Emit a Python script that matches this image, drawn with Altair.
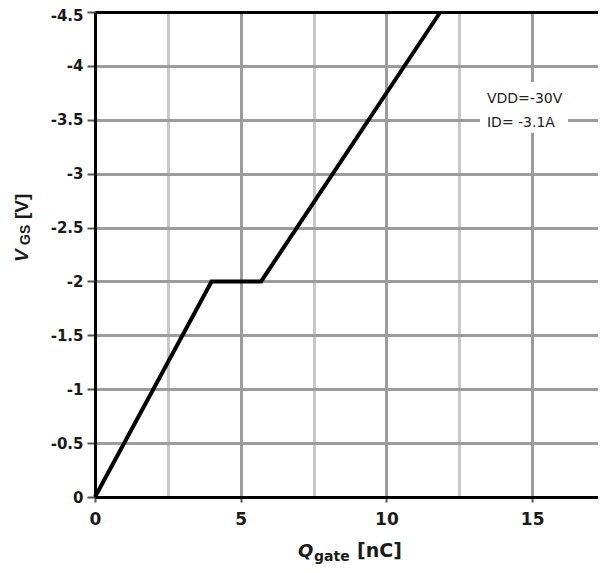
import altair as alt
import pandas as pd

# ---- data ----
q_gate = [0.0, 4.0, 5.7, 11.85]          # nC
v_gs = [0.0, -2.0, -2.0, -4.5]           # V
x_grid = [0, 2.5, 5, 7.5, 10, 12.5, 15]
y_grid = [0, -0.5, -1, -1.5, -2, -2.5, -3, -3.5, -4, -4.5]
note_texts = ["VDD=-30V", "ID= -3.1A"]
note_q = [13.45, 13.45]
note_v = [-3.66, -3.43]
x_title_parts = ["Q", "gate", "[nC]"]
y_title_parts = ["V", "GS", "[V]"]

W, H = 503, 485
X_MAX = 17.26
FONT = "DejaVu Sans"
TFONT = "Liberation Sans"
DARK_GRID = "#9c9c9c"
LIGHT_GRID = "#c8c8c8"

df = pd.DataFrame({"q": q_gate, "v": v_gs})

x_scale = alt.Scale(domain=[0, X_MAX], nice=False, zero=False)
y_scale = alt.Scale(domain=[0, -4.5], nice=False, zero=False)

x_axis = alt.Axis(
    values=x_grid,
    labelExpr="datum.value % 5 === 0 ? datum.value + '' : ''",
    grid=True,
    gridColor={"condition": {"test": "datum.value % 5 === 0", "value": DARK_GRID}, "value": LIGHT_GRID},
    gridWidth=3,
    domainColor="black",
    domainWidth=3,
    tickColor={"condition": {"test": "datum.value % 5 === 0", "value": "#555555"}, "value": "transparent"},
    tickSize=5,
    tickWidth=2,
    labelFont=FONT,
    labelFontWeight="bold",
    labelFontSize=17,
    labelColor="#1a1a1a",
    labelPadding=9,
    labelFlush=False,
    labelOverlap=False,
    title=None,
)

y_axis = alt.Axis(
    values=y_grid,
    labelExpr="datum.value + ''",
    grid=True,
    gridColor=DARK_GRID,
    gridWidth=3,
    domainColor="black",
    domainWidth=3,
    tickColor="#555555",
    tickSize=8,
    tickWidth=2,
    labelFont=FONT,
    labelFontWeight="bold",
    labelFontSize=15,
    labelColor="#1a1a1a",
    labelPadding=4,
    labelOffset={"condition": {"test": "datum.value === -4.5", "value": 3}, "value": 0},
    labelFlush=False,
    labelOverlap=False,
    title=None,
)

X = alt.X("q:Q", scale=x_scale, axis=x_axis, title=None)
Y = alt.Y("v:Q", scale=y_scale, axis=y_axis, title=None)

# white box behind the annotation
box_df = pd.DataFrame({"q": [13.21], "q2": [16.23], "v": [-3.85], "v2": [-3.38]})
box = alt.Chart(box_df).mark_rect(color="white").encode(
    x=X, x2="q2:Q", y=Y, y2="v2:Q",
)

line = alt.Chart(df).mark_line(color="black", strokeWidth=4).encode(x=X, y=Y)

notes_df = pd.DataFrame({"q": note_q, "v": note_v, "t": note_texts})
notes = alt.Chart(notes_df).mark_text(
    align="left", baseline="alphabetic", font=FONT, fontSize=14, color="#222222"
).encode(x=X, y=Y, text="t:N")


def piece(text, x, y, size, style="normal", angle=0, font=FONT):
    kw = dict(align="left", baseline="alphabetic", font=font, fontSize=size,
              fontWeight="bold", fontStyle=style, color="#1a1a1a")
    if angle:
        kw["angle"] = angle
    return alt.Chart(pd.DataFrame({"t": [text]})).mark_text(**kw).encode(
        x=alt.value(x), y=alt.value(y), text="t:N"
    )

# x title: Q_gate [nC]  (view coordinates = page - (95, 12))
xt = [
    piece(x_title_parts[0], 203, 545, 18, "italic"),
    piece(x_title_parts[1], 219, 549, 14),
    piece(x_title_parts[2], 262, 545, 19),
]
# y title: V_GS [V], rotated
yt = [
    piece(y_title_parts[0], -67, 250, 19, "italic", 270, TFONT),
    piece(y_title_parts[1], -65, 233, 14, "normal", 270, TFONT),
    piece(y_title_parts[2], -67, 207, 19, "normal", 270, TFONT),
]

main = alt.layer(box, line, notes, *xt, *yt)

top = alt.Chart(df).mark_point(opacity=0).encode(
    x=alt.X("q:Q", scale=x_scale, title=None,
            axis=alt.Axis(orient="top", labels=False, ticks=False, grid=False,
                          domainColor="black", domainWidth=3, title=None)),
)

chart = alt.layer(main, top).resolve_axis(x="independent").properties(
    width=W, height=H,
    padding={"left": 87, "top": 4, "right": 0, "bottom": 68},
    autosize=alt.AutoSizeParams(type="none"),
).configure_view(stroke=None)

chart.save("out.html", embed_options={"renderer": "svg", "actions": False})
